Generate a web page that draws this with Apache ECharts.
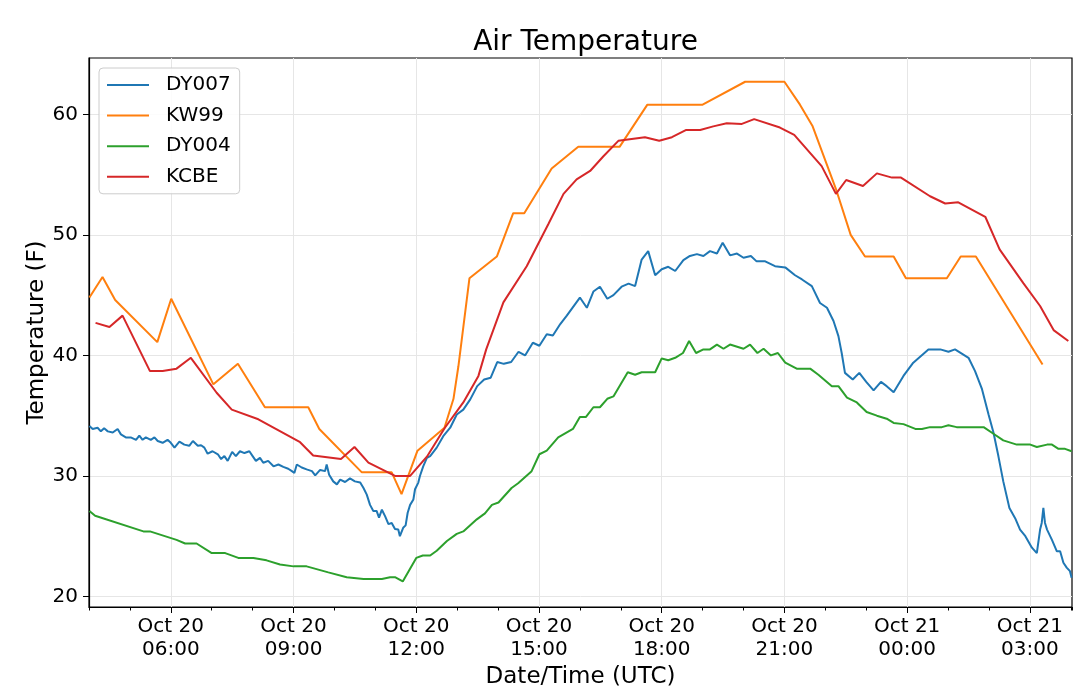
<!DOCTYPE html>
<html>
<head>
<meta charset="utf-8">
<script src="https://cdn.jsdelivr.net/npm/echarts@6/dist/echarts.min.js"></script>
<style>
  html, body { margin: 0; padding: 0; background: #fff; }
  #chart { width: 1080px; height: 695px; }
</style>
</head>
<body>
<div id="chart"></div>
<script>
// times are hours since Oct 20 00:00 UTC
var dy007Time = [4.01, 4.09, 4.21, 4.29, 4.37, 4.46, 4.58, 4.70, 4.78, 4.90, 5.02, 5.15, 5.23, 5.31, 5.39, 5.51, 5.60, 5.68, 5.80, 5.92,
  6.00, 6.09, 6.21, 6.33, 6.45, 6.54, 6.66, 6.74, 6.82, 6.90, 7.02, 7.15, 7.23, 7.31, 7.39, 7.50, 7.59, 7.69, 7.80, 7.92,
  8.00, 8.08, 8.18, 8.26, 8.38, 8.51, 8.63, 8.75, 8.87, 8.96, 9.02, 9.08, 9.20, 9.32, 9.45, 9.53, 9.65, 9.77, 9.81, 9.87,
  9.97, 10.06, 10.14, 10.26, 10.38, 10.50, 10.63, 10.71, 10.79, 10.87, 10.95, 11.03, 11.09, 11.16, 11.24, 11.32, 11.40, 11.48, 11.56, 11.60,
  11.68, 11.74, 11.79, 11.85, 11.93, 11.97, 12.05, 12.09, 12.17, 12.26, 12.34, 12.50, 12.66, 12.83, 12.99, 13.15, 13.32, 13.49, 13.66, 13.82,
  13.98, 14.14, 14.32, 14.50, 14.66, 14.85, 15.01, 15.19, 15.34, 15.52, 15.68, 16.00, 16.17, 16.33, 16.49, 16.67, 16.82, 17.02, 17.19, 17.35,
  17.51, 17.67, 17.84, 18.00, 18.16, 18.33, 18.53, 18.69, 18.86, 19.02, 19.18, 19.35, 19.49, 19.67, 19.84, 20.00, 20.18, 20.32, 20.53, 20.77,
  21.02, 21.26, 21.43, 21.67, 21.87, 22.04, 22.20, 22.32, 22.40, 22.48, 22.67, 22.83, 23.00, 23.18, 23.36, 23.50, 23.67, 23.91, 24.15, 24.52,
  24.81, 25.01, 25.17, 25.50, 25.66, 25.83, 25.99, 26.11, 26.23, 26.35, 26.50, 26.64, 26.76, 26.89, 27.05, 27.17, 27.21, 27.25, 27.29, 27.33,
  27.37, 27.42, 27.54, 27.66, 27.74, 27.82, 27.90, 27.98, 28.02];
var dy007Temp = [34.15, 33.9, 34.0, 33.7, 33.95, 33.7, 33.6, 33.9, 33.45, 33.2, 33.2, 33.0, 33.35, 33.0, 33.2, 33.0, 33.2, 32.9, 32.75, 33.0,
  32.75, 32.35, 32.85, 32.6, 32.5, 32.9, 32.5, 32.55, 32.35, 31.85, 32.05, 31.8, 31.4, 31.65, 31.25, 32.0, 31.65, 32.05, 31.9, 32.05,
  31.65, 31.25, 31.5, 31.1, 31.25, 30.8, 30.95, 30.75, 30.6, 30.4, 30.25, 30.95, 30.7, 30.55, 30.4, 30.05, 30.5, 30.4, 30.95, 30.1,
  29.55, 29.3, 29.7, 29.5, 29.8, 29.55, 29.45, 29.0, 28.45, 27.6, 27.1, 27.1, 26.55, 27.2, 26.65, 26.0, 26.1, 25.6, 25.55, 25.0,
  25.7, 25.9, 26.95, 27.6, 28.05, 28.9, 29.45, 30.0, 30.8, 31.5, 31.65, 32.35, 33.3, 34.0, 35.1, 35.5, 36.35, 37.45, 38.0, 38.15,
  39.45, 39.3, 39.45, 40.3, 40.0, 41.05, 40.8, 41.75, 41.65, 42.6, 43.3, 44.8, 43.95, 45.3, 45.7, 44.7, 45.0, 45.7, 45.95, 45.75,
  47.95, 48.65, 46.65, 47.15, 47.35, 47.0, 47.9, 48.25, 48.4, 48.25, 48.65, 48.45, 49.35, 48.3, 48.45, 48.1, 48.25, 47.8, 47.8, 47.4,
  47.3, 46.65, 46.3, 45.75, 44.35, 43.95, 42.85, 41.6, 40.2, 38.55, 38.0, 38.55, 37.8, 37.1, 37.8, 37.45, 36.95, 38.3, 39.4, 40.5,
  40.5, 40.3, 40.5, 39.8, 38.7, 37.2, 35.1, 33.6, 31.65, 29.55, 27.35, 26.5, 25.55, 25.0, 24.05, 23.6, 23.6, 25.55, 26.1, 27.35,
  26.1, 25.55, 24.7, 23.75, 23.75, 22.8, 22.4, 22.1, 21.55];

var kw99Time = [4.01, 4.33, 4.64, 5.67, 6.01, 7.04, 7.64, 8.30, 9.36, 9.63, 10.67, 11.40, 11.64, 12.03, 12.69, 12.91, 13.03, 13.30, 13.97, 14.37,
  14.64, 15.31, 15.96, 16.97, 17.65, 19.00, 20.04, 21.00, 21.38, 21.69, 22.26, 22.62, 22.97, 23.67, 23.97, 24.97, 25.31, 25.68, 27.31];
var kw99Temp = [44.8, 46.5, 44.6, 41.1, 44.7, 37.6, 39.3, 35.7, 35.7, 33.9, 30.3, 30.3, 28.5, 32.1, 34.0, 36.4, 39.1, 46.4, 48.2, 51.8,
  51.8, 55.5, 57.3, 57.3, 60.8, 60.8, 62.7, 62.7, 60.8, 59.0, 53.8, 50.0, 48.2, 48.2, 46.4, 46.4, 48.2, 48.2, 39.25];

var dy004Time = [4.01, 4.15, 5.33, 5.49, 6.14, 6.35, 6.63, 7.00, 7.33, 7.65, 8.02, 8.34, 8.67, 9.00, 9.32, 9.85, 10.30, 10.71, 11.16, 11.36,
  11.48, 11.67, 12.00, 12.16, 12.34, 12.50, 12.75, 12.99, 13.15, 13.48, 13.68, 13.85, 14.01, 14.33, 14.49, 14.82, 15.01, 15.19, 15.47, 15.83,
  16.00, 16.15, 16.33, 16.49, 16.67, 16.82, 17.17, 17.35, 17.51, 17.84, 18.00, 18.16, 18.33, 18.52, 18.67, 18.84, 19.02, 19.18, 19.35, 19.51,
  19.67, 20.00, 20.16, 20.34, 20.49, 20.67, 20.84, 21.02, 21.30, 21.63, 21.83, 22.16, 22.32, 22.53, 22.77, 23.01, 23.26, 23.50, 23.67, 23.91,
  24.20, 24.36, 24.56, 24.85, 25.01, 25.21, 25.87, 26.11, 26.35, 26.68, 27.01, 27.17, 27.42, 27.54, 27.70, 27.86, 28.02];
var dy004Temp = [27.1, 26.7, 25.4, 25.4, 24.7, 24.4, 24.4, 23.6, 23.6, 23.2, 23.2, 23.0, 22.65, 22.5, 22.5, 22.0, 21.6, 21.45, 21.45, 21.6,
  21.6, 21.25, 23.2, 23.4, 23.4, 23.8, 24.6, 25.2, 25.4, 26.4, 26.9, 27.6, 27.8, 29.0, 29.4, 30.4, 31.8, 32.1, 33.2, 33.9,
  34.9, 34.9, 35.7, 35.7, 36.4, 36.6, 38.6, 38.4, 38.6, 38.6, 39.75, 39.6, 39.8, 40.2, 41.2, 40.2, 40.5, 40.5, 40.9, 40.55,
  40.9, 40.55, 40.9, 40.2, 40.55, 40.0, 40.2, 39.4, 38.9, 38.9, 38.4, 37.45, 37.45, 36.5, 36.1, 35.3, 35.0, 34.75, 34.4, 34.3,
  33.9, 33.9, 34.05, 34.05, 34.2, 34.05, 34.05, 33.5, 32.95, 32.6, 32.6, 32.4, 32.6, 32.6, 32.25, 32.25, 32.05];

var kcbeTime = [4.16, 4.50, 4.82, 5.49, 5.80, 6.14, 6.49, 7.12, 7.49, 8.14, 9.16, 9.48, 10.16, 10.49, 10.83, 11.48, 11.85, 12.26, 12.70, 13.15,
  13.52, 13.71, 14.13, 14.70, 15.23, 15.60, 15.92, 16.25, 16.57, 16.94, 17.59, 17.94, 18.25, 18.60, 18.94, 19.26, 19.59, 19.96, 20.26, 20.89,
  21.24, 21.91, 22.26, 22.51, 22.92, 23.26, 23.63, 23.85, 24.56, 24.93, 25.25, 25.91, 26.26, 26.84, 27.25, 27.58, 27.94];
var kcbeTemp = [42.7, 42.35, 43.3, 38.7, 38.7, 38.9, 39.8, 36.9, 35.5, 34.7, 32.8, 31.7, 31.4, 32.4, 31.1, 30.0, 30.0, 31.6, 34.0, 36.1,
  38.3, 40.5, 44.4, 47.4, 50.9, 53.4, 54.6, 55.3, 56.5, 57.8, 58.1, 57.8, 58.1, 58.7, 58.7, 59.0, 59.25, 59.2, 59.6, 58.9,
  58.3, 55.7, 53.4, 54.55, 54.05, 55.1, 54.75, 54.75, 53.2, 52.6, 52.7, 51.5, 48.8, 46.0, 44.1, 42.1, 41.2];

var seriesNames = ['DY007', 'KW99', 'DY004', 'KCBE'];
var seriesColors = ['#1f77b4', '#ff7f0e', '#2ca02c', '#d62728'];
var seriesTimes = [dy007Time, kw99Time, dy004Time, kcbeTime];
var seriesTemps = [dy007Temp, kw99Temp, dy004Temp, kcbeTemp];

var FONT = 'DejaVu Sans';
var X_MIN = 4, X_MAX = 28.03;

function pad(n) { return n < 10 ? '0' + n : '' + n; }

function zip(xs, ys) {
  var out = [];
  for (var i = 0; i < xs.length; i++) out.push([xs[i], ys[i]]);
  return out;
}

var chart = echarts.init(document.getElementById('chart'), null, {renderer: 'canvas'});

var series = seriesNames.map(function (name, i) {
  return {
    name: name,
    type: 'line',
    xAxisIndex: 0,
    data: zip(seriesTimes[i], seriesTemps[i]),
    showSymbol: false,
    symbol: 'none',
    color: seriesColors[i],
    lineStyle: {width: 2, color: seriesColors[i]},
    animation: false
  };
});

chart.setOption({
  animation: false,
  backgroundColor: '#fff',
  textStyle: {fontFamily: FONT},
  title: {
    text: 'Air Temperature',
    left: 580.5,
    textAlign: 'center',
    top: 24,
    textStyle: {fontFamily: FONT, fontSize: 28, fontWeight: 'normal', color: '#000'}
  },
  legend: {
    orient: 'vertical',
    left: 99,
    top: 68,
    padding: [7, 9, 7, 8],
    icon: 'path://M0,0 L42,0 L42,2 L0,2 Z',
    symbolKeepAspect: true,
    itemWidth: 42,
    itemHeight: 20,
    itemGap: 10.6,
    backgroundColor: 'rgba(255,255,255,0.85)',
    borderColor: '#cccccc',
    borderWidth: 1,
    borderRadius: 4,
    textStyle: {fontFamily: FONT, fontSize: 20, color: '#000', padding: [0, 0, 0, 12]},
    data: seriesNames
  },
  grid: {
    left: 89, top: 58, right: 8, bottom: 88,
    show: true, borderColor: '#000', borderWidth: 1.2
  },
  xAxis: [
    {
      // hourly minor ticks, carries the data
      type: 'value', min: X_MIN, max: X_MAX, interval: 1,
      position: 'bottom',
      axisLine: {show: true, lineStyle: {color: '#000', width: 1.2}},
      axisTick: {show: true, length: 3.5, lineStyle: {color: '#000'}},
      axisLabel: {show: false},
      splitLine: {show: false}
    },
    {
      // 3-hour major ticks and labels
      type: 'value', min: X_MIN, max: X_MAX, splitNumber: 8,
      position: 'bottom',
      axisLine: {show: false},
      axisTick: {show: true, length: 6, lineStyle: {color: '#000'}},
      axisLabel: {
        fontFamily: FONT, fontSize: 20, color: '#000', lineHeight: 23, margin: 8,
        showMinLabel: false, showMaxLabel: false,
        formatter: function (v) {
          if (Math.abs(v - Math.round(v)) > 1e-6 || Math.round(v) % 3 !== 0) return '';
          var h = Math.round(v);
          var day = h < 24 ? 20 : 21;
          return 'Oct ' + day + '\n' + pad(h % 24) + ':00';
        }
      },
      splitLine: {show: true, showMinLine: false, showMaxLine: false, lineStyle: {color: '#e6e6e6', width: 1}},
      name: 'Date/Time (UTC)',
      nameLocation: 'middle',
      nameGap: 59,
      nameMoveOverlap: false,
      nameTextStyle: {fontFamily: FONT, fontSize: 23, color: '#000'}
    }
  ],
  yAxis: {
    type: 'value', min: 19.13, max: 64.67, splitNumber: 5,
    axisLine: {show: true, lineStyle: {color: '#000', width: 1.2}},
    axisTick: {show: true, length: 6, lineStyle: {color: '#000'}},
    axisLabel: {
      fontFamily: FONT, fontSize: 20, color: '#000', margin: 11,
      showMinLabel: false, showMaxLabel: false,
      formatter: function (v) {
        return Math.abs(v % 10) < 1e-6 ? String(v) : '';
      }
    },
    splitLine: {show: true, showMinLine: false, showMaxLine: false, lineStyle: {color: '#e6e6e6', width: 1}},
    name: 'Temperature (F)',
    nameLocation: 'middle',
    nameGap: 40,
    nameMoveOverlap: false,
    nameTextStyle: {fontFamily: FONT, fontSize: 23, color: '#000'}
  },
  series: series
});
</script>
</body>
</html>
